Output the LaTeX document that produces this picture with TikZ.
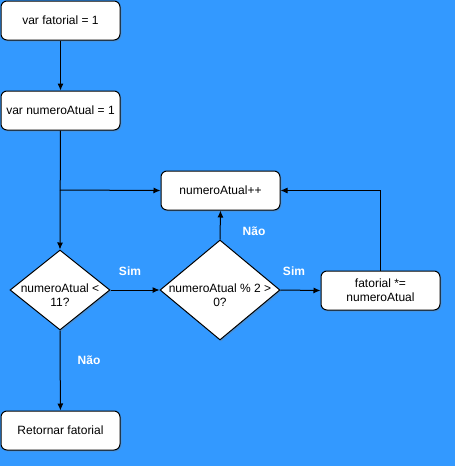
\documentclass[tikz,border=0pt]{standalone}
\usepackage{fontspec}
\setmainfont{Liberation Sans}
\usepackage{xcolor}
\definecolor{fundo}{RGB}{51,153,255}
\usetikzlibrary{shapes.geometric,arrows.meta,shadows}

\begin{document}
\begin{tikzpicture}[
	x=1pt,y=-1pt,
	>={Latex[length=7pt,width=6pt]},
	font=\fontsize{12}{14}\selectfont,
	sombra/.style={drop shadow={shadow xshift=1.5pt,shadow yshift=-1.5pt,opacity=.3}},
	caixa/.style={draw,fill=white,rounded corners=6pt,inner sep=0pt,
		minimum width=119pt,minimum height=39pt,align=center,sombra},
	losango/.style={draw,fill=white,diamond,inner sep=0pt,sombra},
	rotulo/.style={text=white,font=\fontsize{12}{14}\selectfont\bfseries},
	line width=1pt
	]
	
	\fill[fundo] (0,0) rectangle (455,466);
	
	\node[caixa] (init) at (60.5,20.5) {var fatorial = 1};
	\node[caixa] (atual) at (60.5,110.5) {var numeroAtual = 1};
	\node[caixa] (incr) at (220.5,190.5) {numeroAtual++};
	\node[losango,minimum width=100pt,minimum height=80pt,
		label={[align=center,yshift=-5pt]center:numeroAtual <\\11?}] (cond) at (60,290) {};
	\node[losango,minimum width=120pt,minimum height=100pt,
		label={[align=center,yshift=-5pt]center:numeroAtual \% 2 >\\0?}] (par) at (220,290) {};
	\node[caixa] (mult) at (380.5,290.5) {fatorial *=\\numeroAtual};
	\node[caixa] (ret) at (60.5,430.5) {Retornar fatorial};
	
	\coordinate (desvio) at (60,190); % retorno do laco
	
	\draw[->] (init) -- (atual);
	\draw[->] (atual) -- (cond.north);
	\draw[->] (desvio) -- (incr.west);
	\draw[->] (cond.east) -- (par.west);
	\draw[->] (par.east) -- (mult.west);
	\draw[->] (par.north) -- (incr.south);
	\draw[->] (mult.north) |- (incr.east);
	\draw[->] (cond.south) -- (ret);
	
	\node[rotulo] at (130,271) {Sim};
	\node[rotulo] at (294,271) {Sim};
	\node[rotulo] at (254,231) {Não};
	\node[rotulo] at (89,360) {Não};
\end{tikzpicture}
\end{document}
